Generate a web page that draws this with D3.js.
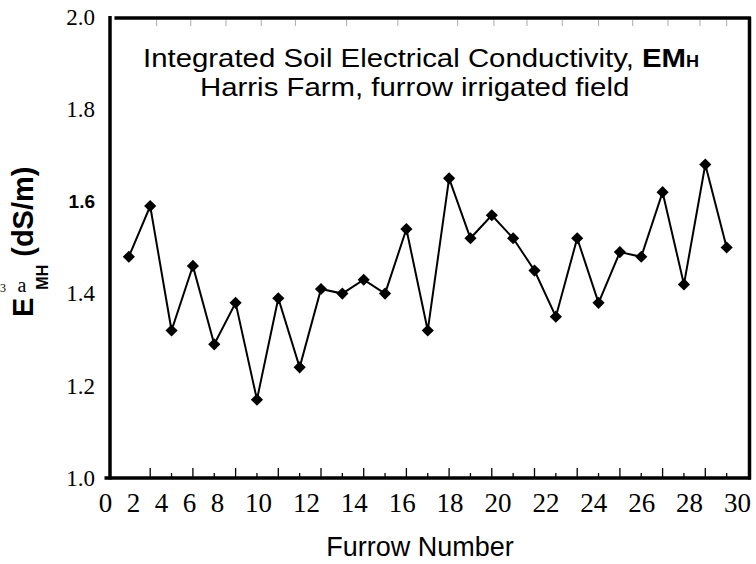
<!DOCTYPE html>
<html>
<head>
<meta charset="utf-8">
<script src="https://cdn.jsdelivr.net/npm/d3@7"></script>
<style>
  body { margin: 0; background: #fff; }
</style>
</head>
<body>
<svg id="chart" width="756" height="564"></svg>
<script>
// furrow numbers and integrated EM (dS/m)
var furrows = [1, 2, 3, 4, 5, 6, 7, 8, 9, 10, 11, 12, 13, 14, 15,
               16, 17, 18, 19, 20, 21, 22, 23, 24, 25, 26, 27, 28, 29];
var emh = [1.48, 1.59, 1.32, 1.46, 1.29, 1.38, 1.17, 1.39, 1.24, 1.41, 1.40, 1.43, 1.40, 1.54, 1.32,
           1.65, 1.52, 1.57, 1.52, 1.45, 1.35, 1.52, 1.38, 1.49, 1.48, 1.62, 1.42, 1.68, 1.50];

var yTicks = [1.0, 1.2, 1.4, 1.6, 1.8, 2.0];
var xLabels = [0, 2, 4, 6, 8, 10, 12, 14, 16, 18, 20, 22, 24, 26, 28, 30];
var xTickMarks = [2, 3, 4, 5, 6, 7, 8, 9, 10, 11, 12, 13, 14, 15, 16,
                  17, 18, 19, 20, 21, 22, 23, 24, 25, 26, 27, 28, 29];
// faint marks left along the top edge of the frame
var topMarks = [2.3, 3.9, 5.55, 7.2, 8.8, 11.2, 13.6, 16.4, 18.1, 19.65, 21.3, 23, 24.6, 26.25, 27.75, 29];

var title1 = "Integrated Soil Electrical Conductivity, ";
var title2 = "Harris Farm, furrow irrigated field";
var xTitle = "Furrow Number";

var SERIF = "'Liberation Serif', 'Times New Roman', Times, 'DejaVu Serif', serif";
var SANS = "'Liberation Sans', Arial, Helvetica, sans-serif";

var svg = d3.select("#chart");

var x = d3.scaleLinear().domain([0, 30]).range([107.5, 748]);
var y = d3.scaleLinear().domain([1, 2]).range([478, 17]);
// the printed tick numbers are not spaced like the ticks (0-8 squeezed together)
var xLab = d3.scaleLinear().domain([0, 8, 10, 30]).range([105, 217, 258, 737]);

// frame
var frame = svg.append("g").attr("stroke", "#000").attr("stroke-width", 3.5);
frame.append("line").attr("x1", x(0) - 3).attr("x2", x(30) + 3).attr("y1", y(1)).attr("y2", y(1));
frame.append("line").attr("x1", x(0) + 2.5).attr("x2", x(0) + 2.5).attr("y1", y(2) - 1).attr("y2", y(1) + 1.5);
frame.append("line").attr("x1", x(0) + 7).attr("x2", x(30) + 3).attr("y1", y(2) + 1).attr("y2", y(2) + 1);
frame.append("line").attr("x1", x(30) + 1.5).attr("x2", x(30) + 1.5).attr("y1", y(2)).attr("y2", y(1) + 1.5);

// bottom tick marks, long on even furrows
svg.append("g").selectAll("line")
    .data(xTickMarks)
    .enter().append("line")
    .attr("x1", function(d) { return x(d); })
    .attr("x2", function(d) { return x(d); })
    .attr("y1", y(1))
    .attr("y2", function(d) { return y(1) - (d % 2 == 0 ? 10 : 5); })
    .attr("stroke", "#000")
    .attr("stroke-width", 1.3);

svg.append("g").selectAll("line")
    .data(topMarks)
    .enter().append("line")
    .attr("x1", function(d) { return x(d); })
    .attr("x2", function(d) { return x(d); })
    .attr("y1", y(2) + 3)
    .attr("y2", y(2) + 9)
    .attr("stroke", "#aaa")
    .attr("stroke-width", 1);

// x tick numbers
var xAxis = svg.append("g")
    .attr("transform", "translate(0," + y(1) + ")")
    .call(d3.axisBottom(xLab).tickValues(xLabels).tickSize(0).tickPadding(15));
xAxis.attr("font-family", SERIF).attr("font-size", 27);
xAxis.select(".domain").remove();
xAxis.selectAll("text").attr("fill", "#000").style("font-family", SERIF);

// y tick numbers
var yAxis = svg.append("g")
    .attr("transform", "translate(110,0)")
    .call(d3.axisLeft(y).tickValues(yTicks).tickFormat(d3.format(".1f")).tickSize(0).tickPadding(15));
yAxis.attr("font-family", SERIF).attr("font-size", 23);
yAxis.select(".domain").remove();
yAxis.selectAll("text")
    .attr("fill", "#000")
    .style("font-family", function(d) { return d == 1.6 ? SANS : SERIF; })
    .style("font-weight", function(d) { return d == 1.6 ? "bold" : "normal"; })
    .style("font-size", function(d) { return d == 1.6 ? "19px" : "23px"; });

// series
var line = d3.line()
    .x(function(d, i) { return x(furrows[i]); })
    .y(function(d) { return y(d); });

svg.append("path")
    .datum(emh)
    .attr("d", line)
    .attr("fill", "none")
    .attr("stroke", "#000")
    .attr("stroke-width", 2);

var diamond = d3.symbol().type(d3.symbolSquare).size(74);
svg.append("g").selectAll("path")
    .data(emh)
    .enter().append("path")
    .attr("d", diamond)
    .attr("transform", function(d, i) { return "translate(" + x(furrows[i]) + "," + y(d) + ") rotate(45)"; })
    .attr("fill", "#000");

// title (the print is a little condensed vertically)
var t1 = svg.append("text").style("font-family", SANS)
    .attr("transform", "translate(143,67) scale(1.13,1)")
    .attr("font-size", 26);
t1.append("tspan").text(title1);
t1.append("tspan").attr("font-weight", "bold").text("EM");
t1.append("tspan").attr("font-weight", "bold").attr("font-size", 16).text("H");

svg.append("text").style("font-family", SANS)
    .attr("transform", "translate(200,96) scale(1.13,1)")
    .attr("font-size", 26)
    .text(title2);

// x axis title
svg.append("text").style("font-family", SANS)
    .attr("x", 420).attr("y", 556)
    .attr("text-anchor", "middle")
    .attr("font-size", 27)
    .text(xTitle);

// y axis title
var yt = svg.append("text").style("font-family", SANS)
    .attr("transform", "translate(33,317) rotate(-90)")
    .attr("font-weight", "bold")
    .attr("font-size", 29);
yt.append("tspan").text("E");
yt.append("tspan").attr("font-size", 16).attr("dx", 8).attr("dy", 15).text("MH");
yt.append("tspan").attr("dx", 8).attr("dy", -15).text("(dS/m)");

// stray characters from the scan
svg.append("text").style("font-family", SERIF).attr("x", 22).attr("y", 292)
    .attr("text-anchor", "middle").attr("font-size", 20).text("a");
svg.append("text").style("font-family", SERIF).attr("x", 0).attr("y", 292)
    .attr("font-size", 12).text("3");
</script>
</body>
</html>
